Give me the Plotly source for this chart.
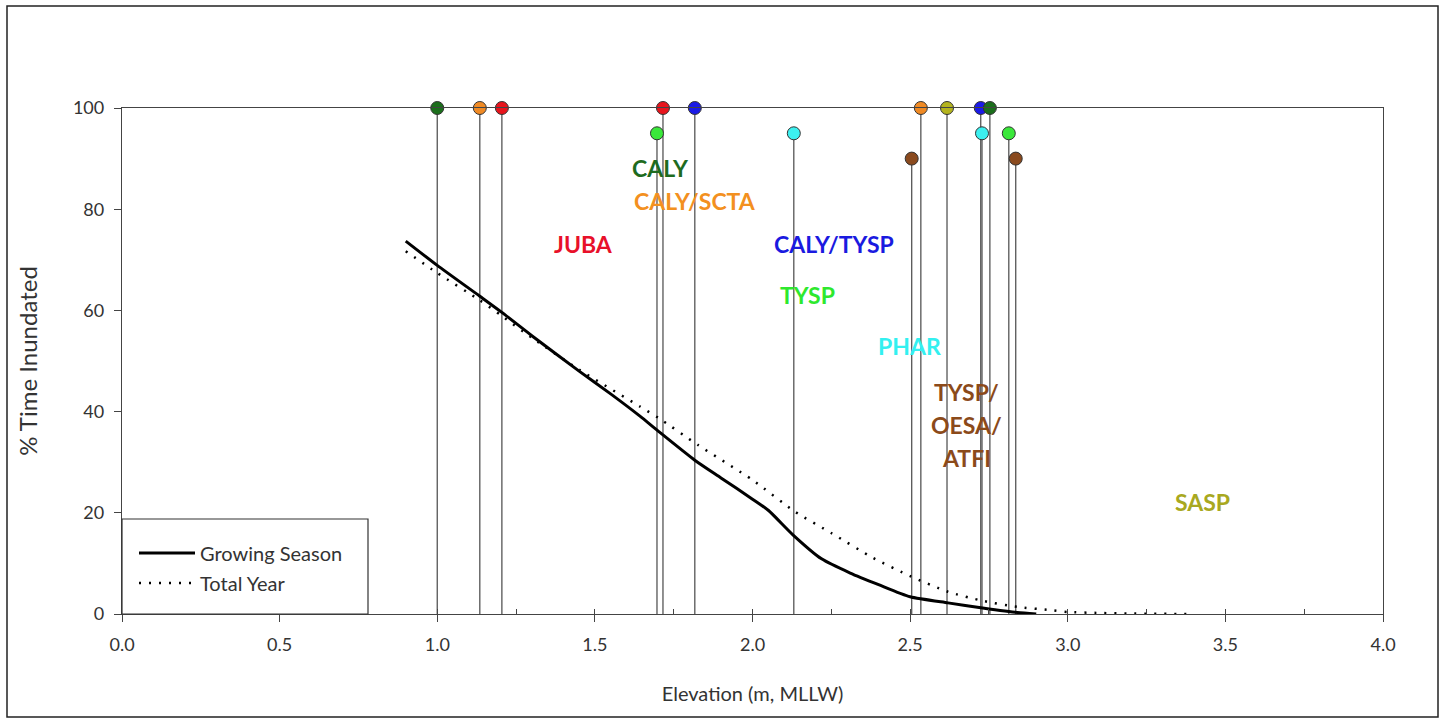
import plotly.graph_objects as go

# ---- data ----
gs_x = [0.90, 1.00, 1.135, 1.205, 1.30, 1.45, 1.55, 1.643, 1.70, 1.817, 1.90, 2.00, 2.05,
        2.129, 2.219, 2.31, 2.40, 2.50, 2.62, 2.73, 2.84, 2.90]
gs_y = [73.7, 68.9, 62.8, 59.6, 55.0, 48.0, 43.5, 39.1, 36.2, 30.4, 26.9, 22.7, 20.5,
        15.6, 10.9, 8.1, 5.8, 3.4, 2.2, 1.2, 0.3, 0.0]

ty_x = [0.90, 1.00, 1.135, 1.205, 1.30, 1.45, 1.643, 1.703, 1.827, 2.00, 2.135, 2.25, 2.382,
        2.50, 2.62, 2.73, 2.84, 2.94, 3.00, 3.10, 3.20, 3.38]
ty_y = [71.7, 67.4, 62.0, 58.9, 54.6, 48.3, 41.0, 38.7, 33.4, 26.5, 20.2, 16.0, 11.1,
        7.5, 4.4, 2.6, 1.4, 0.8, 0.4, 0.2, 0.1, 0.0]

sp_x = [1.00, 1.135, 1.205, 1.716, 1.817, 2.534, 2.617, 2.724, 2.753,
        1.697, 2.131, 2.728, 2.813, 2.505, 2.835]
sp_y = [100, 100, 100, 100, 100, 100, 100, 100, 100,
        95, 95, 95, 95, 90, 90]
sp_c = ["#1b6e1b", "#f08a24", "#e8141c", "#e8141c", "#1a1ae6", "#f08a24", "#b4b41e", "#1a1ae6", "#1b6e1b",
        "#3ae83a", "#3cf0f0", "#3cf0f0", "#3ae83a", "#8a4a1e", "#8a4a1e"]

labels = ["CALY", "CALY/SCTA", "JUBA", "CALY/TYSP", "TYSP", "PHAR", "TYSP/", "OESA/", "ATFI", "SASP"]
label_x = [1.709, 1.817, 1.465, 2.258, 2.176, 2.499, 2.68, 2.68, 2.68, 3.428]
label_y = [88.1, 81.6, 73.1, 73.1, 63.0, 53.0, 43.9, 37.4, 30.8, 22.1]
label_c = ["#1e6b1e", "#f39020", "#e8102a", "#1a1ae0", "#2ee82e", "#33f0f0",
           "#8b4a1a", "#8b4a1a", "#8b4a1a", "#a8a820"]

x_ticks = [0.0, 0.5, 1.0, 1.5, 2.0, 2.5, 3.0, 3.5, 4.0]
y_ticks = [0, 20, 40, 60, 80, 100]

# ---- figure ----
fig = go.Figure()

# vertical drop lines
vx, vy = [], []
for x, y in zip(sp_x, sp_y):
    vx += [x, x, None]
    vy += [0, y, None]
fig.add_trace(go.Scatter(x=vx, y=vy, mode="lines", line=dict(color="#555555", width=1.3),
                         showlegend=False, hoverinfo="skip"))

fig.add_trace(go.Scatter(x=gs_x, y=gs_y, mode="lines", name="Growing Season",
                         line=dict(color="black", width=3, shape="spline", smoothing=0.6),
                         legend="legend"))
fig.add_trace(go.Scatter(x=ty_x, y=ty_y, mode="lines", name="Total Year",
                         line=dict(color="black", width=2.5, dash="2px,8px", shape="spline", smoothing=0.6),
                         legend="legend2"))

fig.add_trace(go.Scatter(x=sp_x, y=sp_y, mode="markers", showlegend=False,
                         marker=dict(size=13, color=sp_c, line=dict(color="#333333", width=1)),
                         cliponaxis=False))

for t, x, y, c in zip(labels, label_x, label_y, label_c):
    fig.add_annotation(x=x, y=y, text="<b>%s</b>" % t, showarrow=False,
                       font=dict(family="Lato", size=23, color=c), xanchor="center", yanchor="middle")

W, H = 1444, 719
L, R, T, B = 122, 61, 108, 105
pw, ph = W - L - R, H - T - B

def px_x(p):
    return (p - L) / pw

def px_y(p):
    return (H - B - p) / ph

# outer border
fig.add_shape(type="rect", xref="paper", yref="paper",
              x0=px_x(7), x1=px_x(1438), y0=px_y(717), y1=px_y(6),
              line=dict(color="#222222", width=1.5), layer="below")
# legend box
fig.add_shape(type="rect", xref="paper", yref="paper",
              x0=0, x1=px_x(368), y0=0, y1=px_y(519),
              line=dict(color="#333333", width=1.2), fillcolor="white", layer="above")

axis_font = dict(family="Lato", size=18, color="#333333")
fig.update_layout(
    width=W, height=H,
    margin=dict(l=L, r=R, t=T, b=B, autoexpand=False),
    paper_bgcolor="white", plot_bgcolor="white",
    font=dict(family="Lato", color="#333333"),
    xaxis=dict(range=[0, 4], tickvals=x_ticks, ticktext=["%.1f" % v for v in x_ticks],
               showline=True, linecolor="#444444", linewidth=1.3, mirror=True, automargin=False,
               ticks="outside", ticklen=7, tickcolor="#444444", showgrid=False, zeroline=False,
               tickfont=axis_font, ticklabelstandoff=7,
               minor=dict(dtick=0.25, tick0=0, ticks="inside", ticklen=5, tickcolor="#444444", showgrid=False),
               title=dict(text="Elevation (m, MLLW)", font=dict(family="Lato", size=20, color="#333333"), standoff=33)),
    yaxis=dict(range=[0, 100], tickvals=y_ticks,
               showline=True, linecolor="#444444", linewidth=1.3, mirror=True, automargin=False,
               ticks="outside", ticklen=7, tickcolor="#444444", showgrid=False, zeroline=False,
               tickfont=axis_font, ticklabelstandoff=6,
               title=dict(text="% Time Inundated", font=dict(family="Lato", size=24, color="#333333"), standoff=28)),
    legend=dict(x=px_x(134), y=px_y(553), xanchor="left", yanchor="middle",
                bgcolor="rgba(0,0,0,0)", borderwidth=0, itemwidth=56,
                font=dict(family="Lato", size=20, color="#333333")),
    legend2=dict(x=px_x(134), y=px_y(583), xanchor="left", yanchor="middle",
                 bgcolor="rgba(0,0,0,0)", borderwidth=0, itemwidth=56,
                 font=dict(family="Lato", size=20, color="#333333")),
)

fig.write_html("out.html")
